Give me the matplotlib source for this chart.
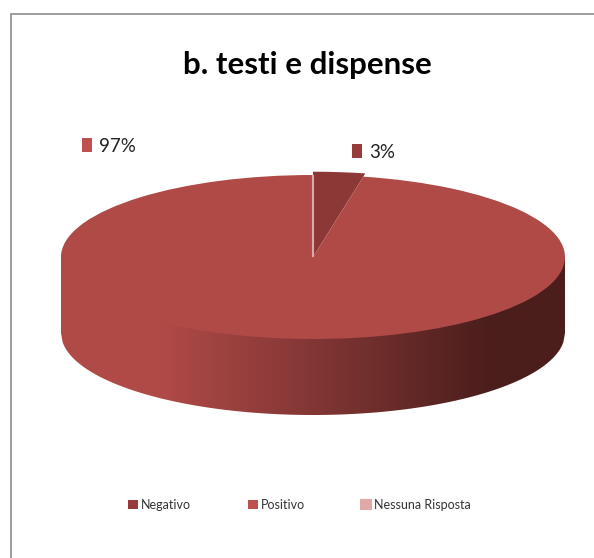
import numpy as np
import matplotlib
matplotlib.use('Agg')
import matplotlib.pyplot as plt
from matplotlib.colors import LinearSegmentedColormap
from matplotlib.patches import Polygon, Rectangle

categories = ['Negativo', 'Positivo', 'Nessuna Risposta']
values = [3.2, 96.8, 0]
colors = ['#8C3836', '#AF4A47', '#DDA9A8']
legend_colors = ['#963B39', '#C0504D', '#DFA9A8']

W, H = 594, 558
cx, cy = 313, 257   # pie centre in px
rx, ry = 252, 82    # radii of the tilted pie
depth = 76 / ry

fig = plt.figure(figsize=(W / 100, H / 100), dpi=100)
ax = fig.add_axes([0, 0, 1, 1])
wedges, _ = ax.pie(values, colors=colors, startangle=90, counterclock=False,
                   wedgeprops={'linewidth': 0})
wedges[0].set_radius(1.04)
wedges[2].set_edgecolor(colors[2])
wedges[2].set_linewidth(1.5)
for w in wedges:
    w.set_zorder(3)

# unit circle of the pie maps onto the ellipse in pixels
ax.set_aspect('auto')

# side wall of the disc, gradient clipped to the outline (runs up under the top face)
xs = np.linspace(-1, 1, 300)
ys = -np.sqrt(1 - xs ** 2) - depth
outline = np.vstack([np.c_[xs, ys], [[1, 0], [-1, 0]]])
side = Polygon(outline, closed=True, facecolor='none', edgecolor='none', transform=ax.transData)
ax.add_patch(side)
cmap = LinearSegmentedColormap.from_list('side', [(0, '#AF4A47'), (0.2, '#AF4A47'), (0.45, '#8A3A38'),
                                                  (0.85, '#4B1E1C'), (1, '#4B1E1C')])
im = ax.imshow(np.linspace(0, 1, 256)[None, :], cmap=cmap, aspect='auto', zorder=2,
               extent=(-1, 1, -1 - depth, 0))
im.set_clip_path(side)
ax.set_xlim(-cx / rx, (W - cx) / rx)
ax.set_ylim((cy - H) / ry, cy / ry)

# chart frame
fig.add_artist(Rectangle((10.5 / W, -0.1), 1.1, 1.1 - 14.5 / H, transform=fig.transFigure,
                         facecolor='none', edgecolor='#8E8E8E', linewidth=1.2))

fig.text(307 / W, 1 - 65 / H, 'b. testi e dispense', family='Lato', fontweight='bold', fontsize=22.5,
         color='black', ha='center', va='center')

# data labels with their small key squares
for i, (px, py) in zip([1, 0], [(82, 145), (352, 151)]):
    fig.add_artist(Rectangle((px / W, 1 - (py + 7) / H), 10 / W, 14 / H, transform=fig.transFigure,
                             facecolor=legend_colors[i], edgecolor='none'))
    fig.text((px + 17) / W, 1 - (py + 1) / H, f'{values[i]:.0f}%', family='Lato', fontsize=13.5,
             color='#222222', ha='left', va='center')

leg = ax.legend(wedges, categories, loc='center', bbox_to_anchor=(299.5 / W, 1 - 505 / H), ncol=3,
                frameon=False, prop={'family': 'Lato', 'size': 9}, handlelength=0.8, handleheight=0.8,
                handletextpad=0.25, columnspacing=4.5)
for h, c in zip(leg.legend_handles, legend_colors):
    h.set_facecolor(c)
    h.set_edgecolor(c)
for t in leg.get_texts():
    t.set_color('#333333')

fig.savefig('out.png', dpi=100)
